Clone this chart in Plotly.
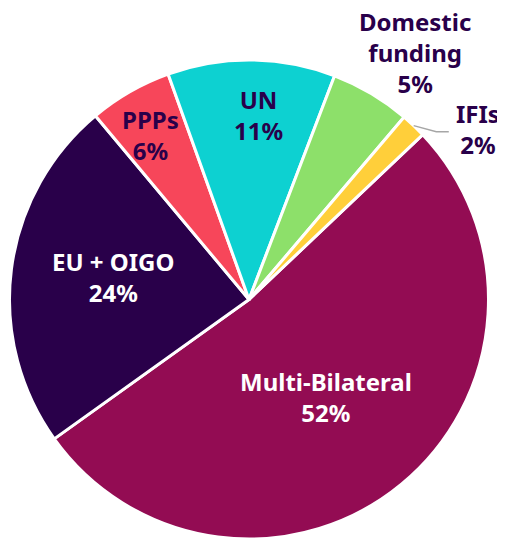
import math
import plotly.graph_objects as go

labels = ["Multi-Bilateral", "EU + OIGO", "PPPs", "UN", "Domestic<br>funding", "IFIs"]
values = [52.2, 23.8, 5.6, 11.3, 5.4, 1.7]
pct_text = ["52%", "24%", "6%", "11%", "5%", "2%"]
colors = ["#930C53", "#29004A", "#F7465A", "#0DD1D1", "#8DE06A", "#FFCF3A"]
text_colors = ["#FFFFFF", "#FFFFFF", "#29004A", "#29004A", "#29004A", "#29004A"]

# label placement (fraction of radius, angular offset in degrees)
label_r = [0.518, 0.575, 0.80, 0.77, 1.242, 1.193]
label_da = [1.2, 2.2, -1.2, 2.3, 3.2, 9.8]

W, H = 497, 533
CX, CY, R = 241, 291.5, 239.5  # pie centre / radius in pixels
ROT = 46.5

fig = go.Figure(go.Pie(
    labels=labels,
    values=values,
    sort=False,
    direction="clockwise",
    rotation=ROT,
    marker=dict(colors=colors, line=dict(color="#FFFFFF", width=3)),
    textinfo="none",
    domain=dict(x=[(CX - R) / W, (CX + R) / W], y=[(H - CY - R) / H, (H - CY + R) / H]),
    showlegend=False,
    hoverinfo="label+value",
))

total = sum(values)
start = ROT
annotations = []
for i, v in enumerate(values):
    span = 360 * v / total
    mid = start + span / 2
    a = math.radians(mid + label_da[i])
    px = CX + R * label_r[i] * math.sin(a)
    py = CY - R * label_r[i] * math.cos(a)
    annotations.append(dict(
        x=px / W, y=1 - py / H, xref="paper", yref="paper",
        text=f"<b>{labels[i]}<br>{pct_text[i]}</b>",
        showarrow=False, xanchor="center", yanchor="middle",
        font=dict(family="Noto Sans", size=24, color=text_colors[i]),
    ))
    if labels[i] == "IFIs":
        am = math.radians(mid)
        x0 = CX + R * math.sin(am)
        y0 = CY - R * math.cos(am)
        x1 = CX + R * 1.05 * math.sin(math.radians(mid + 4.7))
        y1 = CY - R * 1.05 * math.cos(math.radians(mid + 4.7))
        x2 = x1 + 12.5
        path = (f"M {x0 / W} {1 - y0 / H} L {x1 / W} {1 - y1 / H} "
                f"L {x2 / W} {1 - y1 / H}")
        fig.add_shape(type="path", path=path, xref="paper", yref="paper",
                      line=dict(color="#A6A6A6", width=1.5))
    start += span

fig.update_layout(
    width=W, height=H,
    margin=dict(l=0, r=0, t=0, b=0),
    paper_bgcolor="#FFFFFF",
    plot_bgcolor="#FFFFFF",
    annotations=annotations,
)
fig.write_html("out.html")
